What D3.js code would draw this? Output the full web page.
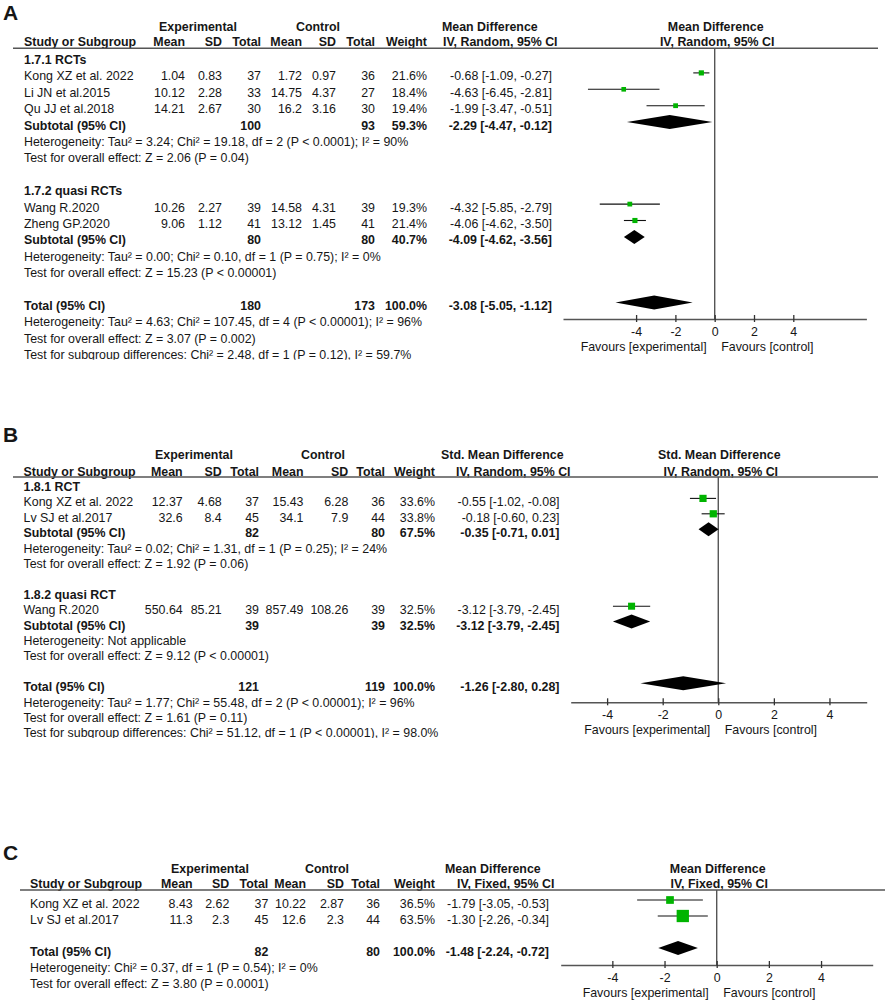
<!DOCTYPE html>
<html><head><meta charset="utf-8">
<script src="https://cdn.jsdelivr.net/npm/d3@7"></script>
<style>body{margin:0;background:#fff}svg{display:block}</style>
</head><body>
<script>
// ---------------- Panel A data ----------------
const aGroups = ["1.7.1 RCTs", "1.7.2 quasi RCTs"];
const aStudy = ["Kong XZ et al. 2022", "Li JN et al.2015", "Qu JJ et al.2018", "Wang R.2020", "Zheng GP.2020"];
const aStudyGroup = [0, 0, 0, 1, 1];
const aExpMean = [1.04, 10.12, 14.21, 10.26, 9.06];
const aExpSD = [0.83, 2.28, 2.67, 2.27, 1.12];
const aExpN = [37, 33, 30, 39, 41];
const aCtlMean = [1.72, 14.75, 16.2, 14.58, 13.12];
const aCtlSD = [0.97, 4.37, 3.16, 4.31, 1.45];
const aCtlN = [36, 27, 30, 39, 41];
const aWeight = [21.6, 18.4, 19.4, 19.3, 21.4];
const aEst = [-0.68, -4.63, -1.99, -4.32, -4.06];
const aLo = [-1.09, -6.45, -3.47, -5.85, -4.62];
const aHi = [-0.27, -2.81, -0.51, -2.79, -3.50];
const aSubExpN = [100, 80];
const aSubCtlN = [93, 80];
const aSubWeight = [59.3, 40.7];
const aSubEst = [-2.29, -4.09];
const aSubLo = [-4.47, -4.62];
const aSubHi = [-0.12, -3.56];
const aSubHet = ["Heterogeneity: Tau² = 3.24; Chi² = 19.18, df = 2 (P < 0.0001); I² = 90%",
                 "Heterogeneity: Tau² = 0.00; Chi² = 0.10, df = 1 (P = 0.75); I² = 0%"];
const aSubZ = ["Test for overall effect: Z = 2.06 (P = 0.04)",
               "Test for overall effect: Z = 15.23 (P < 0.00001)"];
const aTotalN = [180, 173];
const aTotalEst = [-3.08, -5.05, -1.12];
const aFooter = ["Heterogeneity: Tau² = 4.63; Chi² = 107.45, df = 4 (P < 0.00001); I² = 96%",
                 "Test for overall effect: Z = 3.07 (P = 0.002)",
                 "Test for subgroup differences: Chi² = 2.48, df = 1 (P = 0.12), I² = 59.7%"];

// ---------------- Panel B data ----------------
const bGroups = ["1.8.1 RCT", "1.8.2 quasi RCT"];
const bStudy = ["Kong XZ et al. 2022", "Lv SJ et al.2017", "Wang R.2020"];
const bStudyGroup = [0, 0, 1];
const bExpMean = [12.37, 32.6, 550.64];
const bExpSD = [4.68, 8.4, 85.21];
const bExpN = [37, 45, 39];
const bCtlMean = [15.43, 34.1, 857.49];
const bCtlSD = [6.28, 7.9, 108.26];
const bCtlN = [36, 44, 39];
const bWeight = [33.6, 33.8, 32.5];
const bEst = [-0.55, -0.18, -3.12];
const bLo = [-1.02, -0.60, -3.79];
const bHi = [-0.08, 0.23, -2.45];
const bSubExpN = [82, 39];
const bSubCtlN = [80, 39];
const bSubWeight = [67.5, 32.5];
const bSubEst = [-0.35, -3.12];
const bSubLo = [-0.71, -3.79];
const bSubHi = [0.01, -2.45];
const bSubHet = ["Heterogeneity: Tau² = 0.02; Chi² = 1.31, df = 1 (P = 0.25); I² = 24%",
                 "Heterogeneity: Not applicable"];
const bSubZ = ["Test for overall effect: Z = 1.92 (P = 0.06)",
               "Test for overall effect: Z = 9.12 (P < 0.00001)"];
const bTotalN = [121, 119];
const bTotalEst = [-1.26, -2.80, 0.28];
const bFooter = ["Heterogeneity: Tau² = 1.77; Chi² = 55.48, df = 2 (P < 0.00001); I² = 96%",
                 "Test for overall effect: Z = 1.61 (P = 0.11)",
                 "Test for subgroup differences: Chi² = 51.12, df = 1 (P < 0.00001), I² = 98.0%"];

// ---------------- Panel C data ----------------
const cStudy = ["Kong XZ et al. 2022", "Lv SJ et al.2017"];
const cExpMean = [8.43, 11.3];
const cExpSD = [2.62, 2.3];
const cExpN = [37, 45];
const cCtlMean = [10.22, 12.6];
const cCtlSD = [2.87, 2.3];
const cCtlN = [36, 44];
const cWeight = [36.5, 63.5];
const cEst = [-1.79, -1.30];
const cLo = [-3.05, -2.26];
const cHi = [-0.53, -0.34];
const cTotalN = [82, 80];
const cTotalEst = [-1.48, -2.24, -0.72];
const cFooter = ["Heterogeneity: Chi² = 0.37, df = 1 (P = 0.54); I² = 0%",
                 "Test for overall effect: Z = 3.80 (P = 0.0001)"];

const tickVals = [-4, -2, 0, 2, 4];

// ---------------- drawing ----------------
const W = 886, H = 1001;
const FONT = "'Liberation Sans', Arial, Helvetica, sans-serif";
const FS = 12.4;
const TXT = "#161616", LINE = "#555", GREEN = "#00b400";
const svg = d3.select("body").append("svg").attr("width", W).attr("height", H)
  .style("font-family", FONT).style("font-size", FS + "px");
const defs = svg.append("defs");
const sizeScale = d3.scaleLinear().domain([0, 100]).range([1.5, 18.5]);
const fmtCI = (e, l, h) => `${e.toFixed(2)} [${l.toFixed(2)}, ${h.toFixed(2)}]`;

function txt(g, x, y, s, anchor, bold, size) {
  return g.append("text").attr("x", x).attr("y", y).attr("text-anchor", anchor || "start")
    .attr("font-weight", bold ? "bold" : "normal").attr("fill", TXT)
    .attr("font-size", size || FS).text(s);
}

function buildRows(D) {
  const rows = [];
  if (D.groups) {
    D.groups.forEach((gname, gi) => {
      rows.push({type: "group", label: gname});
      D.study.forEach((s, i) => { if (D.studyGroup[i] === gi) rows.push({type: "study", i}); });
      rows.push({type: "sub", gi});
      rows.push({type: "note", label: D.subHet[gi]});
      rows.push({type: "note", label: D.subZ[gi]});
      rows.push({type: "blank"});
    });
  } else {
    D.study.forEach((s, i) => rows.push({type: "study", i}));
    rows.push({type: "blank"});
  }
  rows.push({type: "total"});
  D.footer.forEach((f, k) => rows.push({type: "note", label: f, clip: D.clipLast && k === D.footer.length - 1}));
  return rows;
}

function drawPanel(D, L, id) {
  const g = svg.append("g");
  const C = L.cols;
  txt(g, 3, L.letterY, D.letter, "start", true, 21);
  // header row 1
  txt(g, L.expC, L.h1, "Experimental", "middle", true);
  txt(g, L.ctlC, L.h1, "Control", "middle", true);
  txt(g, L.headL1, L.h1, D.measure, "start", true);
  // header row 2
  txt(g, L.labelX, L.h2, "Study or Subgroup", "start", true);
  [["Mean", C[0]], ["SD", C[1]], ["Total", C[2]], ["Mean", C[3]], ["SD", C[4]], ["Total", C[5]], ["Weight", C[6]]]
    .forEach(([s, x]) => txt(g, x, L.h2, s, "end", true));
  txt(g, L.headL2, L.h2, D.method, "start", true);

  const x = d3.scaleLinear().domain(L.domain).range(L.range);
  const zx = x(0);
  txt(g, zx + 1, L.h1, D.measure, "middle", true);
  txt(g, zx + 2.5, L.h2, D.method, "middle", true);

  // header line
  g.append("line").attr("x1", L.lineX[0]).attr("x2", L.lineX[1]).attr("y1", L.lineY).attr("y2", L.lineY)
    .attr("stroke", LINE).attr("stroke-width", 1.6);
  // zero line
  g.append("line").attr("x1", zx).attr("x2", zx).attr("y1", L.lineY).attr("y2", L.axisY)
    .attr("stroke", LINE).attr("stroke-width", 1.4);

  const rows = buildRows(D);
  rows.forEach((r, k) => {
    const y = L.row0 + k * L.rowH;
    const cy = y - L.markOff;
    if (r.type === "group") txt(g, L.labelX, y, r.label, "start", true);
    else if (r.type === "note") {
      const t = txt(g, L.labelX, y, r.label, "start", false);
      if (r.clip) {
        defs.append("clipPath").attr("id", "clip" + id).append("rect")
          .attr("x", 0).attr("y", y - 20).attr("width", W).attr("height", 20.5);
        t.attr("clip-path", `url(#clip${id})`);
      }
    } else if (r.type === "study") {
      const i = r.i;
      txt(g, L.labelX, y, D.study[i]);
      txt(g, C[0], y, String(D.expMean[i]), "end");
      txt(g, C[1], y, String(D.expSD[i]), "end");
      txt(g, C[2], y, String(D.expN[i]), "end");
      txt(g, C[3], y, String(D.ctlMean[i]), "end");
      txt(g, C[4], y, String(D.ctlSD[i]), "end");
      txt(g, C[5], y, String(D.ctlN[i]), "end");
      txt(g, C[6], y, D.weight[i].toFixed(1) + "%", "end");
      txt(g, L.ciR, y, fmtCI(D.est[i], D.lo[i], D.hi[i]), "end");
      g.append("line").attr("x1", x(D.lo[i])).attr("x2", x(D.hi[i])).attr("y1", cy).attr("y2", cy)
        .attr("stroke", "#111").attr("stroke-width", 1.1);
      const s = sizeScale(D.weight[i]);
      g.append("rect").attr("x", x(D.est[i]) - s / 2).attr("y", cy - s / 2).attr("width", s).attr("height", s)
        .attr("fill", GREEN);
    } else if (r.type === "sub" || r.type === "total") {
      const isSub = r.type === "sub";
      const gi = r.gi;
      const vals = isSub ? [D.subExpN[gi], D.subCtlN[gi], D.subWeight[gi], D.subEst[gi], D.subLo[gi], D.subHi[gi]]
                         : [D.totalN[0], D.totalN[1], 100.0, D.totalEst[0], D.totalEst[1], D.totalEst[2]];
      txt(g, L.labelX, y, isSub ? "Subtotal (95% CI)" : "Total (95% CI)", "start", true);
      txt(g, C[2], y, String(vals[0]), "end", true);
      txt(g, C[5], y, String(vals[1]), "end", true);
      txt(g, C[6], y, vals[2].toFixed(1) + "%", "end", true);
      txt(g, L.ciR, y, fmtCI(vals[3], vals[4], vals[5]), "end", true);
      const h = 7;
      g.append("path").attr("d",
        `M${x(vals[4])},${cy} L${x(vals[3])},${cy - h} L${x(vals[5])},${cy} L${x(vals[3])},${cy + h} Z`)
        .attr("fill", "#000");
    }
  });

  // axis
  const ax = g.append("g").attr("transform", `translate(0,${L.axisY})`)
    .call(d3.axisBottom(x).tickValues(tickVals).tickSizeOuter(0).tickSizeInner(3).tickPadding(5)
      .tickFormat(d => String(d)));
  ax.select(".domain").attr("stroke", LINE).attr("stroke-width", 1.5);
  ax.selectAll(".tick line").attr("stroke", "#333").attr("stroke-width", 1.3).attr("y1", -4).attr("y2", 3);
  ax.selectAll(".tick text").attr("font-size", FS).attr("font-family", FONT).attr("fill", TXT)
    .attr("dy", null).attr("y", 16.5);
  txt(g, zx - 8, L.axisY + 31.5, "Favours [experimental]", "end");
  txt(g, zx + 6.5, L.axisY + 31.5, "Favours [control]", "start");
}

const A = {letter: "A", measure: "Mean Difference", method: "IV, Random, 95% CI",
  groups: aGroups, study: aStudy, studyGroup: aStudyGroup, expMean: aExpMean, expSD: aExpSD, expN: aExpN,
  ctlMean: aCtlMean, ctlSD: aCtlSD, ctlN: aCtlN, weight: aWeight, est: aEst, lo: aLo, hi: aHi,
  subExpN: aSubExpN, subCtlN: aSubCtlN, subWeight: aSubWeight, subEst: aSubEst, subLo: aSubLo, subHi: aSubHi,
  subHet: aSubHet, subZ: aSubZ, totalN: aTotalN, totalEst: aTotalEst, footer: aFooter, clipLast: true};
const B = {letter: "B", measure: "Std. Mean Difference", method: "IV, Random, 95% CI",
  groups: bGroups, study: bStudy, studyGroup: bStudyGroup, expMean: bExpMean, expSD: bExpSD, expN: bExpN,
  ctlMean: bCtlMean, ctlSD: bCtlSD, ctlN: bCtlN, weight: bWeight, est: bEst, lo: bLo, hi: bHi,
  subExpN: bSubExpN, subCtlN: bSubCtlN, subWeight: bSubWeight, subEst: bSubEst, subLo: bSubLo, subHi: bSubHi,
  subHet: bSubHet, subZ: bSubZ, totalN: bTotalN, totalEst: bTotalEst, footer: bFooter, clipLast: true};
const Cc = {letter: "C", measure: "Mean Difference", method: "IV, Fixed, 95% CI",
  study: cStudy, expMean: cExpMean, expSD: cExpSD, expN: cExpN,
  ctlMean: cCtlMean, ctlSD: cCtlSD, ctlN: cCtlN, weight: cWeight, est: cEst, lo: cLo, hi: cHi,
  totalN: cTotalN, totalEst: cTotalEst, footer: cFooter, clipLast: false};

drawPanel(A, {letterY: 20, h1: 31, h2: 46, lineY: 48.3, lineX: [13, 878], labelX: 24,
  expC: 198, ctlC: 318, headL1: 442, headL2: 443,
  cols: [185, 222, 261, 302, 336, 375, 427], ciR: 552,
  row0: 64, rowH: 16.4, markOff: 7.5,
  domain: [-7.72, 7.72], range: [563, 866.4], axisY: 319}, "A");
drawPanel(B, {letterY: 442, h1: 459, h2: 476, lineY: 477, lineX: [13, 878], labelX: 23.5,
  expC: 194, ctlC: 323, headL1: 441, headL2: 456,
  cols: [182.7, 221.7, 259, 303.5, 348.3, 385, 435], ciR: 559.5,
  row0: 491, rowH: 15.4, markOff: 8,
  domain: [-5.31, 5.34], range: [570.7, 866.7], axisY: 702.3}, "B");
drawPanel(Cc, {letterY: 860, h1: 873, h2: 888, lineY: 890, lineX: [20, 885], labelX: 30,
  expC: 210, ctlC: 327, headL1: 445, headL2: 457,
  cols: [192.7, 229.3, 268.3, 306, 344, 380, 435], ciR: 549,
  row0: 908, rowH: 16, markOff: 8,
  domain: [-5.98, 5.98], range: [560.7, 872.7], axisY: 965}, "C");
</script>
</body></html>
